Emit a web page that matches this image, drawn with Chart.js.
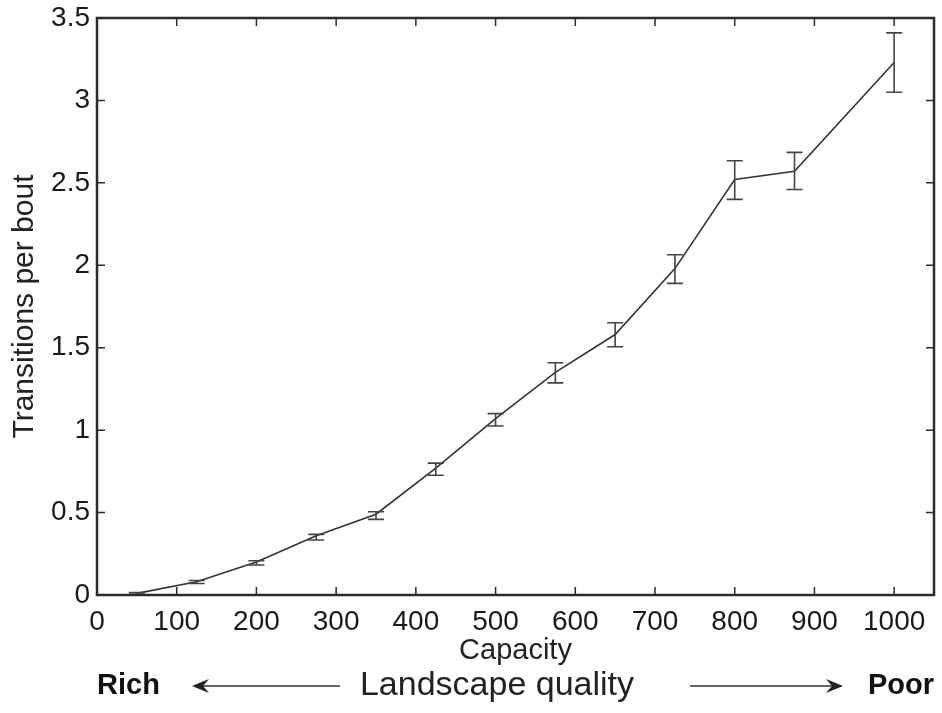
<!DOCTYPE html>
<html>
<head>
<meta charset="utf-8">
<script src="https://cdn.jsdelivr.net/npm/chart.js@4.4.1/dist/chart.umd.min.js"></script>
<style>
  html, body { margin: 0; padding: 0; background: #fff; }
  #wrap { width: 942px; height: 713px; }
</style>
</head>
<body>
<div id="wrap"><canvas id="chart" width="942" height="713"></canvas></div>
<script>
// Données
const capacity = [50, 125, 200, 275, 350, 425, 500, 575, 650, 725, 800, 875, 1000];
const transitions = [0.01, 0.08, 0.2, 0.36, 0.49, 0.77, 1.07, 1.35, 1.58, 1.98, 2.52, 2.57, 3.23];
const errLow = [0.005, 0.07, 0.182, 0.334, 0.459, 0.726, 1.025, 1.287, 1.506, 1.89, 2.40, 2.46, 3.05];
const errHigh = [0.015, 0.088, 0.208, 0.368, 0.505, 0.80, 1.10, 1.409, 1.651, 2.064, 2.634, 2.685, 3.41];
const xTicks = [0, 100, 200, 300, 400, 500, 600, 700, 800, 900, 1000];
const yTicks = [0, 0.5, 1, 1.5, 2, 2.5, 3, 3.5];

const FONT = "'Liberation Sans', Arial, Helvetica, sans-serif";
const INK = '#2b2b2b';

// Cadre + graduations intérieures sur les quatre côtés
const frameTicks = {
    id: 'frameTicks',
    afterDraw(chart) {
        const {ctx, chartArea: a, scales: {x, y}} = chart;
        const len = 8;
        ctx.save();
        ctx.strokeStyle = INK;
        ctx.lineWidth = 1.5;
        ctx.beginPath();
        x.ticks.forEach(t => {
            const px = x.getPixelForValue(t.value);
            ctx.moveTo(px, a.bottom); ctx.lineTo(px, a.bottom - len);
            ctx.moveTo(px, a.top); ctx.lineTo(px, a.top + len);
        });
        y.ticks.forEach(t => {
            const py = y.getPixelForValue(t.value);
            ctx.moveTo(a.left, py); ctx.lineTo(a.left + len, py);
            ctx.moveTo(a.right, py); ctx.lineTo(a.right - len, py);
        });
        ctx.stroke();
        ctx.lineWidth = 2.5;
        ctx.strokeRect(a.left, a.top, a.right - a.left, a.bottom - a.top);
        ctx.restore();
    }
};

// Barres d'erreur
const errorBars = {
    id: 'errorBars',
    afterDatasetsDraw(chart) {
        const {ctx, scales: {x, y}} = chart;
        const cap = 8;
        ctx.save();
        ctx.strokeStyle = '#444';
        ctx.lineWidth = 1.6;
        ctx.beginPath();
        capacity.forEach((c, i) => {
            const px = x.getPixelForValue(c);
            const lo = y.getPixelForValue(errLow[i]);
            const hi = y.getPixelForValue(errHigh[i]);
            ctx.moveTo(px, lo); ctx.lineTo(px, hi);
            ctx.moveTo(px - cap, lo); ctx.lineTo(px + cap, lo);
            ctx.moveTo(px - cap, hi); ctx.lineTo(px + cap, hi);
        });
        ctx.stroke();
        ctx.restore();
    }
};

// Ligne "Rich <---- Landscape quality ----> Poor"
function arrow(ctx, x0, x1, yy) {
    const dir = Math.sign(x1 - x0);
    ctx.beginPath();
    ctx.moveTo(x0, yy); ctx.lineTo(x1 - dir * 6, yy);
    ctx.lineWidth = 1.5;
    ctx.stroke();
    ctx.beginPath();
    ctx.moveTo(x1, yy);
    ctx.lineTo(x1 - dir * 17, yy - 7);
    ctx.lineTo(x1 - dir * 11, yy);
    ctx.lineTo(x1 - dir * 17, yy + 7);
    ctx.closePath();
    ctx.fill();
}

const qualityAxis = {
    id: 'qualityAxis',
    afterDraw(chart) {
        const {ctx, chartArea: a} = chart;
        const yy = 686;
        ctx.save();
        ctx.fillStyle = '#111';
        ctx.strokeStyle = '#333';
        ctx.textBaseline = 'middle';
        ctx.font = 'bold 29px ' + FONT;
        ctx.textAlign = 'left';
        ctx.fillText('Rich', a.left, yy);
        ctx.textAlign = 'right';
        ctx.fillText('Poor', a.right, yy);
        ctx.font = '34px ' + FONT;
        ctx.fillStyle = '#222';
        ctx.textAlign = 'center';
        ctx.fillText('Landscape quality', 497, yy);
        arrow(ctx, 340, 192, yy);
        arrow(ctx, 690, 843, yy);
        ctx.restore();
    }
};

new Chart(document.getElementById('chart'), {
    type: 'line',
    data: {
        datasets: [{
            data: capacity.map((c, i) => ({x: c, y: transitions[i]})),
            borderColor: '#333',
            borderWidth: 1.6,
            pointRadius: 0,
            tension: 0,
            fill: false
        }]
    },
    options: {
        responsive: false,
        animation: false,
        devicePixelRatio: 1,
        layout: { padding: { top: 18, right: 8, bottom: 48, left: 0 } },
        plugins: {
            legend: { display: false },
            tooltip: { enabled: false }
        },
        scales: {
            x: {
                type: 'linear',
                min: 0,
                max: 1050,
                afterBuildTicks: s => { s.ticks = xTicks.map(v => ({value: v})); },
                afterFit: s => { s.height = 70; },
                grid: { display: false, drawTicks: false },
                border: { display: false },
                ticks: {
                    color: '#1a1a1a',
                    font: { family: FONT, size: 28 },
                    padding: 10,
                    maxRotation: 0,
                    autoSkip: false,
                    callback: v => String(v)
                },
                title: {
                    display: true,
                    text: 'Capacity',
                    color: '#222',
                    font: { family: FONT, size: 29, lineHeight: 1 },
                    padding: 0
                }
            },
            y: {
                type: 'linear',
                min: 0,
                max: 3.5,
                afterBuildTicks: s => { s.ticks = yTicks.map(v => ({value: v})); },
                afterFit: s => { s.width = 97; s.paddingTop = 0; },
                grid: { display: false, drawTicks: false },
                border: { display: false },
                ticks: {
                    color: '#1a1a1a',
                    font: { family: FONT, size: 28, lineHeight: 1 },
                    padding: 7,
                    autoSkip: false,
                    callback: v => String(v)
                },
                title: {
                    display: true,
                    text: 'Transitions per bout',
                    color: '#222',
                    font: { family: FONT, size: 30, lineHeight: 1 },
                    padding: { top: 10, bottom: 0 }
                }
            }
        }
    },
    plugins: [errorBars, frameTicks, qualityAxis]
});
</script>
</body>
</html>
